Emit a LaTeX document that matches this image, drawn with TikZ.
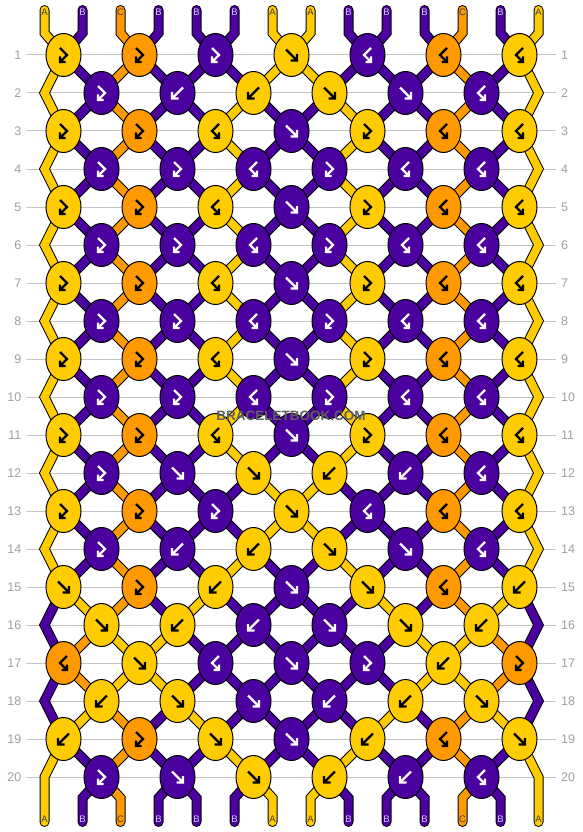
\documentclass[tikz,border=0pt]{standalone}
\usepackage{fontspec}
\setmainfont{Liberation Sans}
\usetikzlibrary{shapes.geometric}
\definecolor{cY}{HTML}{FFCC00}
\definecolor{cP}{HTML}{4B00A0}
\definecolor{cO}{HTML}{FF9900}
\colorlet{gY}{black}\colorlet{gO}{black}\colorlet{gP}{white}
\colorlet{lA}{black!75}\colorlet{lC}{black!75}\definecolor{lB}{HTML}{D8C8FF}
\definecolor{gridc}{HTML}{C4C4C4}
\definecolor{numc}{HTML}{A0A0A0}
\definecolor{wmc}{HTML}{606060}
\pgfdeclarelayer{gridlayer}
\pgfdeclarelayer{outlayer}
\pgfdeclarelayer{filllayer}
\pgfsetlayers{gridlayer,outlayer,filllayer,main}
% thread colours after each row
\def\Sa{Y,P,O,P,P,P,Y,Y,P,P,P,O,P,Y}
\def\St{Y,P,O,P,P,Y,P,P,Y,P,P,O,P,Y}
\def\Su{P,Y,O,P,Y,P,P,P,P,Y,P,O,Y,P}
\def\Sv{P,O,Y,Y,P,P,P,P,P,P,Y,Y,O,P}
% knot rows: type/colour
\def\Ka{fb/Y,fb/O,fb/P,f/Y,bf/P,bf/O,bf/Y}
\def\Kb{fb/P,b/P,b/Y,f/Y,f/P,bf/P}
\def\Kc{fb/Y,fb/O,bf/Y,f/P,fb/Y,bf/O,bf/Y}
\def\Kd{fb/P,fb/P,bf/P,fb/P,bf/P,bf/P}
\def\Ke{fb/P,f/P,f/Y,b/Y,b/P,bf/P}
\def\Kf{f/Y,fb/O,b/Y,f/P,f/Y,bf/O,b/Y}
\def\Kg{f/Y,b/Y,b/P,f/P,f/Y,b/Y}
\def\Kh{bf/O,f/Y,bf/P,f/P,fb/P,b/Y,fb/O}
\def\Ki{b/Y,f/Y,f/P,b/P,b/Y,f/Y}
\def\Kj{b/Y,fb/O,f/Y,f/P,b/Y,bf/O,f/Y}
\newcommand\glyphf[2]{\draw[glyph,color=#2,shift={(#1)}] (-5.5,-5.5) -- (5.5,5.5) (5.5,-1) -- (5.5,5.5) -- (-1,5.5);}
\newcommand\glyphb[2]{\draw[glyph,color=#2,shift={(#1)}] (5.5,-5.5) -- (-5.5,5.5) (-5.5,-1) -- (-5.5,5.5) -- (1,5.5);}
\newcommand\glyphfb[2]{\draw[glyph,color=#2,shift={(#1)}] (-3.5,-7) -- (3.5,0) -- (-3.5,7) (-3.5,1.5) -- (-3.5,7) -- (2,7);}
\newcommand\glyphbf[2]{\draw[glyph,color=#2,shift={(#1)}] (3.5,-7) -- (-3.5,0) -- (3.5,7) (3.5,1.5) -- (3.5,7) -- (-2,7);}
% all thread segments, drawn with style #1 (given the thread colour)
\newcommand\threadpass[1]{%
  \foreach \st [count=\rr] in {a,t,t,t,t,t,t,t,t,t,t,a,a,t,u,v,v,u,t}{
    \edef\cur{\csname S\st\endcsname}
    \pgfmathtruncatemacro\rn{\rr+1}
    \foreach \co [count=\ii] in \cur {
      \ifnum\ii>1 \ifnum\ii<14
        \pgfmathtruncatemacro\ko{(\ii-1)/2+1}
        \pgfmathtruncatemacro\je{\ii/2}
        \ifodd\rr\relax
          \edef\pa{n-\rr-\ko}\edef\pb{n-\rn-\je}
        \else
          \edef\pa{n-\rr-\je}\edef\pb{n-\rn-\ko}
        \fi
        \draw[#1=c\co] (\pa.center) -- (\pb.center);
      \fi\fi
    }
  }
  \foreach \rr/\co in {1/Y,3/Y,5/Y,7/Y,9/Y,11/Y,13/Y,15/P,17/P}{
    \pgfmathtruncatemacro\ra{\rr+1}
    \pgfmathtruncatemacro\rb{\rr+2}
    \draw[#1=c\co] (n-\rr-1.center) -- (eL-\ra) -- (n-\rb-1.center);
    \draw[#1=c\co] (n-\rr-7.center) -- (eR-\ra) -- (n-\rb-7.center);
  }
  \draw[#1=cY] (n-19-1.center) -- (eL-20) -- (bA-1);
  \draw[#1=cY] (n-19-7.center) -- (eR-20) -- (bA-14);
  \foreach \co [count=\ii] in \Sa {
    \pgfmathtruncatemacro\ko{(\ii-1)/2+1}
    \draw[#1=c\co] (tA-\ii) -- (tB-\ii) -- (n-1-\ko.center);
  }
  \foreach \co [count=\ii] in \Sa {
    \ifnum\ii>1 \ifnum\ii<14
    \pgfmathtruncatemacro\je{\ii/2}
    \draw[#1=c\co] (n-20-\je.center) -- (bB-\ii) -- (bA-\ii);
    \fi\fi
  }
}
\begin{document}
\begin{tikzpicture}[x=1pt,y=-1pt,
  knot/.style={ellipse,draw=black,line width=1pt,minimum width=35pt,minimum height=43pt,inner sep=0pt},
  glyph/.style={line width=2.4pt,line cap=butt,line join=miter},
  tout/.style={draw=black,line width=10pt,line cap=round,line join=miter},
  tfill/.style={draw=#1,line width=8pt,line cap=round,line join=miter},
  lab/.style={font=\fontsize{9.5}{9.5}\selectfont,inner sep=0pt},
  num/.style={font=\fontsize{12.5}{12.5}\selectfont,text=numc,inner sep=0pt},
  gridline/.style={draw=gridc,line width=1pt}]
\useasboundingbox (0,0) rectangle (582,832);
\begin{pgfonlayer}{gridlayer}
\fill[white] (0,0) rectangle (582,832);
\foreach \rr in {1,...,20}{
  \pgfmathsetmacro\yy{55+38*(\rr-1)}
  \draw[gridline] (26,\yy) -- (556,\yy);
}
\end{pgfonlayer}
% row numbers
\foreach \rr in {1,...,20}{
  \pgfmathsetmacro\yy{55+38*(\rr-1)}
  \node[num,anchor=east] (ln-\rr) at (21.5,\yy) {\rr};
  \node[num,anchor=west] (rn-\rr) at (561,\yy) {\rr};
}
% edge vertices
\foreach \rr in {2,4,...,20}{
  \pgfmathsetmacro\yy{55+38*(\rr-1)}
  \coordinate (eL-\rr) at (44.5,\yy);
  \coordinate (eR-\rr) at (538.5,\yy);
}
% thread ends
\foreach \ii in {1,...,14}{
  \pgfmathsetmacro\xx{44.5+38*(\ii-1)}
  \coordinate (tA-\ii) at (\xx,10);
  \coordinate (tB-\ii) at (\xx,33);
  \coordinate (bB-\ii) at (\xx,798);
  \coordinate (bA-\ii) at (\xx,822);
}
% knots
\foreach \kl [count=\rr] in {a,b,c,d,c,d,c,d,c,d,c,e,a,b,f,g,h,i,j,e}{
  \pgfmathsetmacro\yy{55+38*(\rr-1)}
  \ifodd\rr\relax\def\xs{63.5}\else\def\xs{101.5}\fi
  \edef\curk{\csname K\kl\endcsname}
  \foreach \ty/\co [count=\kk] in \curk {
    \node[knot,fill=c\co] (n-\rr-\kk) at ({\xs+76*(\kk-1)},\yy) {};
    \csname glyph\ty\endcsname{n-\rr-\kk}{g\co}
  }
}
% threads: outline pass, then colour pass
\begin{pgfonlayer}{outlayer}
\threadpass{tout}
\end{pgfonlayer}
\begin{pgfonlayer}{filllayer}
\threadpass{tfill}
\end{pgfonlayer}
% thread labels
\foreach \lb [count=\ii] in {A,B,C,B,B,B,A,A,B,B,B,C,B,A}{
  \pgfmathsetmacro\xx{44.5+38*(\ii-1)}
  \node[lab,text=l\lb] (lt-\ii) at (\xx,12.7) {\lb};
  \node[lab,text=l\lb] (lb-\ii) at (\xx,819.7) {\lb};
}
% watermark
\node[font=\bfseries\fontsize{13.5}{13.5}\selectfont,text=wmc,inner sep=0pt] (wm) at (291,416) {BRACELETBOOK.COM};
\end{tikzpicture}
\end{document}
